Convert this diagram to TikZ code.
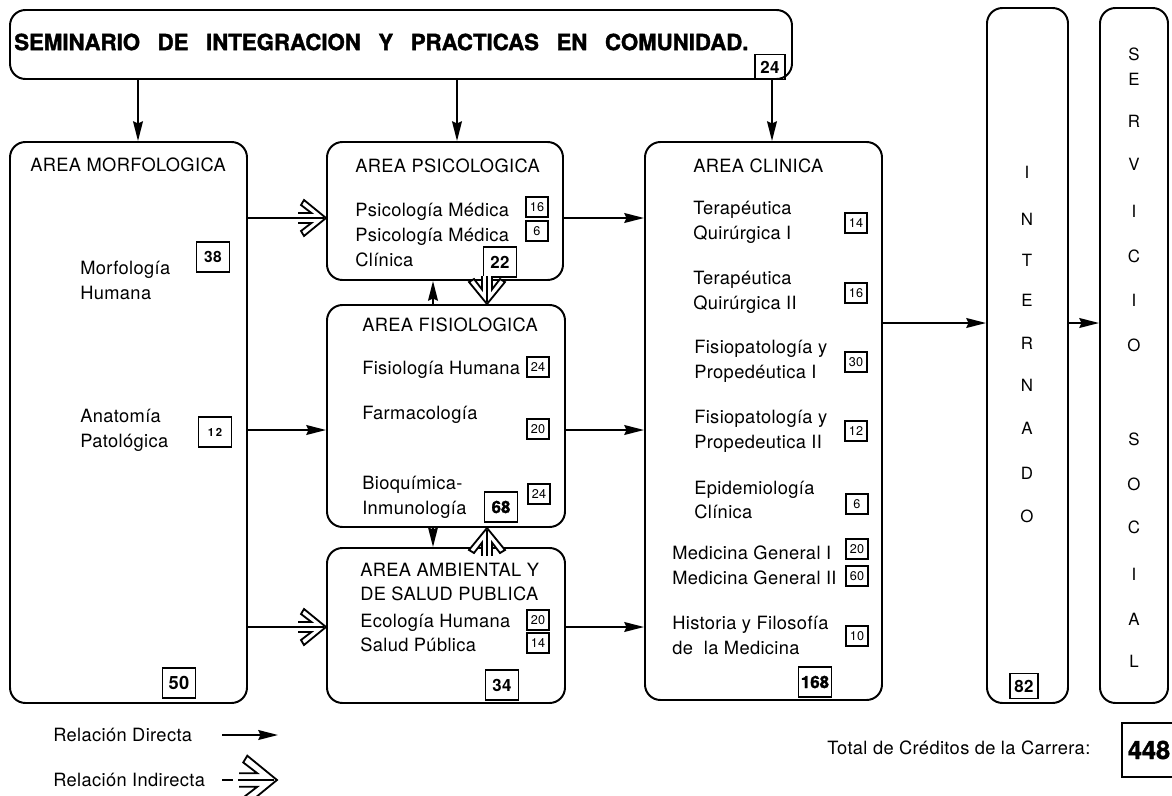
\documentclass[tikz,border=0pt]{standalone}
\usepackage{fontspec}
\setmainfont{TeX Gyre Heros}[LetterSpace=2]
\newfontfamily\titlefont{TeX Gyre Heros}[FakeBold=1.5]
\usetikzlibrary{arrows.meta, fit, calc}
\tikzset{
  % Set arrowhead
  >={Stealth[length=14pt, width=7pt, inset=1.5pt]},
  % Rounded area block
  area/.style={draw, line width=1.4pt, rounded corners=11pt, inner sep=0pt},
  % Credit boxes
  cred/.style={draw, line width=0.9pt, inner sep=0pt, minimum width=0.55cm,
    minimum height=0.5cm, font=\fontsize{9}{9}\selectfont},
  credb/.style={cred, line width=1.2pt, minimum width=0.82cm,
    minimum height=0.75cm, font=\fontsize{12}{12}\selectfont\bfseries},
  % Texts
  lbl/.style={anchor=west, align=left, inner sep=0pt,
    font=\fontsize{13}{17.7}\selectfont},
  head/.style={inner sep=0pt, font=\fontsize{13}{16}\selectfont},
  vlet/.style={inner sep=0pt, font=\fontsize{12}{12}\selectfont},
  % Arrows
  dir/.style={->, line width=1.3pt},
  ind/.style={line width=1.3pt},
  % Hollow head of an indirect relation
  hollow/.pic={
    \fill[white] (-28,-5) -- (-14.6,-5) -- (-25,-13) -- (-22,-18) -- (0,0)
      -- (-22,18) -- (-25,13) -- (-14.6,5) -- (-28,5) -- cycle;
    \draw[line width=1.3pt, line join=miter] (-28,-5) -- (-14.6,-5) -- (-25,-13)
      -- (-22,-18) -- (0,0) -- (-22,18) -- (-25,13) -- (-14.6,5) -- (-28,5);
    \draw[line width=1.2pt] (-28,0) -- (-2,0);
  },
}
\newcommand{\wgap}{\hspace{12.5pt}}

\begin{document}
\begin{tikzpicture}[x=0.025cm, y=-0.025cm]
  \useasboundingbox (0,0) rectangle (1172,796);

  % blocks
  \node[area, fit={(10,10) (792,79)}] (semi) {};
  \node[area, fit={(10,142) (247,703)}] (morf) {};
  \node[area, fit={(327,142) (563,280)}] (psic) {};
  \node[area, fit={(327,305) (565,527)}] (fisio) {};
  \node[area, fit={(327,548) (565,703)}] (amb) {};
  \node[area, fit={(645,142) (882,700)}] (clin) {};
  \node[area, fit={(987,8) (1068,703)}] (intern) {};
  \node[area, fit={(1100,8) (1168,703)}] (serv) {};

  % seminario
  \node[anchor=west, inner sep=0pt,
    font=\titlefont\bfseries\fontsize{15.8}{16}\selectfont] (ttl) at (14,42)
    {SEMINARIO\wgap DE\wgap INTEGRACION\wgap Y\wgap PRACTICAS\wgap EN\wgap COMUNIDAD.};
  \node[credb, minimum width=0.75cm, minimum height=0.62cm] (c24a) at (770,67) {24};

  % morfologica
  \node[head] (morfh) at (128,165) {AREA MORFOLOGICA};
  \node[lbl] (morfa) at (80,280) {Morfología\\Humana};
  \node[credb, font=\fontsize{11}{11}\selectfont\bfseries] (c38) at (213,257) {38};
  \node[lbl] (morfb) at (80,430) {Anatomía\\Patológica};
  \node[credb, line width=1pt, font=\fontsize{8}{8}\selectfont\bfseries] (c12a) at (215,432) {1\,2};
  \node[credb, font=\fontsize{13}{13}\selectfont\bfseries] (c50) at (179,683) {50};

  % psicologica
  \node[lbl] (psich) at (355,166) {AREA PSICOLOGICA};
  \node[lbl] (psica) at (355,235) {Psicología Médica\\Psicología Médica\\Clínica};
  \node[cred] (c16a) at (537,207) {16};
  \node[cred] (c6a) at (537,231) {6};
  \node[credb] (c22) at (500,262) {22};

  % fisiologica
  \node[lbl] (fish) at (362,325) {AREA FISIOLOGICA};
  \node[lbl] (fisa) at (362,370) {Fisiología Humana};
  \node[cred] (c24b) at (538,367) {24};
  \node[lbl] (fisb) at (362,415) {Farmacología};
  \node[cred] (c20a) at (538,429) {20};
  \node[lbl] (fisc) at (362,497) {Bioquímica-\\Inmunología};
  \node[cred] (c24c) at (539,494) {24};
  \node[credb, font=\titlefont\bfseries\fontsize{12}{12}\selectfont] (c68) at (501,507) {68};

  % ambiental
  \node[lbl] (ambh) at (360,582) {AREA AMBIENTAL Y\\DE SALUD PUBLICA};
  \node[lbl] (amba) at (360,633) {Ecología Humana\\Salud Pública};
  \node[cred] (c20b) at (538,620) {20};
  \node[cred] (c14a) at (538,643) {14};
  \node[credb] (c34) at (502,685) {34};

  % clinica
  \node[lbl] (clinh) at (693,166) {AREA CLINICA};
  \node[lbl] (clina) at (693,222) {Terapéutica\\Quirúrgica I};
  \node[cred] (c14b) at (856,223) {14};
  \node[lbl] (clinb) at (693,292) {Terapéutica\\Quirúrgica II};
  \node[cred] (c16b) at (856,293) {16};
  \node[lbl] (clinc) at (694,361) {Fisiopatología y\\Propedéutica I};
  \node[cred] (c30) at (856,362) {30};
  \node[lbl] (clind) at (694,431) {Fisiopatología y\\Propedeutica II};
  \node[cred] (c12b) at (856,431) {12};
  \node[lbl] (cline) at (694,500) {Epidemiología\\Clínica};
  \node[cred] (c6b) at (857,504) {6};
  \node[lbl] (clinf) at (672,565) {Medicina General I\\Medicina General II};
  \node[cred] (c20c) at (857,549) {20};
  \node[cred] (c60) at (857,576) {60};
  \node[lbl] (cling) at (672,635) {Historia y Filosofía\\de\ \ la Medicina};
  \node[cred] (c10) at (857,636) {10};
  \node[credb, font=\titlefont\bfseries\fontsize{12}{12}\selectfont] (c168) at (815,682) {168};

  % internado, servicio social
  \foreach \l/\y [count=\i] in {I/172,N/219,T/260,E/300,R/343,N/385,A/428,D/473,O/516}
    \node[vlet] (int\i) at (1027,\y) {\l};
  \node[credb, minimum width=0.7cm, minimum height=0.62cm] (c82) at (1024,686) {82};
  \foreach \l/\y [count=\i] in {S/54,E/79,R/121,V/164,I/211,C/256,I/300,O/345,
      S/439,O/484,C/527,I/574,A/619,L/661}
    \node[vlet] (ser\i) at (1134,\y) {\l};

  % total
  \node[lbl] (tot) at (827,748) {Total de Créditos de la Carrera:};
  \node[draw, line width=1.4pt, minimum width=1.35cm, minimum height=1.35cm,
    font=\titlefont\bfseries\fontsize{18}{18}\selectfont] (c448) at (1149,750) {448};

  % rows and columns of connectors
  \coordinate (ra) at (0,218);
  \coordinate (rb) at (0,430);
  \coordinate (rc) at (0,627);
  \coordinate (rd) at (0,323);
  \coordinate (ka) at (138,0);
  \coordinate (kb) at (457,0);
  \coordinate (kc) at (772,0);
  \coordinate (kd) at (433,0);
  \coordinate (ke) at (487,0);

  \draw[dir] (semi.south -| ka) -- (morf.north -| ka);
  \draw[dir] (semi.south -| kb) -- (psic.north -| kb);
  \draw[dir] (semi.south -| kc) -- (clin.north -| kc);

  \draw[ind] (morf.east |- ra) -- (psic.west |- ra);
  \path (psic.west |- ra) pic{hollow};
  \draw[dir] (morf.east |- rb) -- (fisio.west |- rb);
  \draw[ind] (morf.east |- rc) -- (amb.west |- rc);
  \path (amb.west |- rc) pic{hollow};

  \draw[dir] (psic.east |- ra) -- (clin.west |- ra);
  \draw[dir] (fisio.east |- rb) -- (clin.west |- rb);
  \draw[dir] (amb.east |- rc) -- (clin.west |- rc);

  \draw[dir] (fisio.north -| kd) -- (psic.south -| kd);
  \draw[ind] (psic.south -| ke) -- (fisio.north -| ke);
  \path (fisio.north -| ke) pic[rotate=-90]{hollow};
  \draw[dir] (fisio.south -| kd) -- (amb.north -| kd);
  \draw[ind] (amb.north -| ke) -- (fisio.south -| ke);
  \path (fisio.south -| ke) pic[rotate=90]{hollow};

  \draw[dir] (clin.east |- rd) -- (intern.west |- rd);
  \draw[dir] (intern.east |- rd) -- (serv.west |- rd);

  % legend
  \node[lbl] (legd) at (53,735) {Relación Directa};
  \node[lbl] (legi) at (53,780) {Relación Indirecta};
  \coordinate (lda) at (222,735);
  \coordinate (ldb) at (278,735);
  \draw[dir] (lda) -- (ldb);
  \coordinate (lia) at (222,780);
  \coordinate (lib) at (233,780);
  \coordinate (lic) at (238,780);
  \coordinate (lid) at (277,780);
  \draw[ind] (lia) -- (lib);
  \draw[ind] (lic) -- (lid);
  \path (lid) pic[scale=1.35]{hollow};
\end{tikzpicture}
\end{document}
